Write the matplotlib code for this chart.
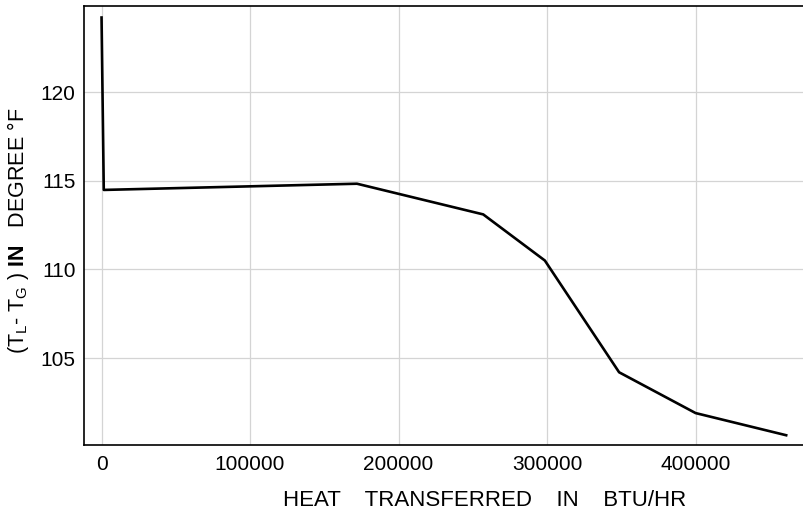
import matplotlib.pyplot as plt

plt.rcParams['font.family'] = ['Liberation Sans', 'DejaVu Sans']
plt.rcParams['mathtext.fontset'] = 'custom'
plt.rcParams['mathtext.rm'] = 'Liberation Sans'
plt.rcParams['mathtext.bf'] = 'Liberation Sans:bold'

# heat transferred (BTU/hr) vs liquid-gas temperature difference (deg F)
heat_btu_hr = [0, 1500, 172000, 257000, 298500, 348500, 400000, 461000]
delta_t_f = [124.2, 114.48, 114.83, 113.1, 110.5, 104.2, 101.9, 100.65]

x_ticks = [0, 100000, 200000, 300000, 400000]
y_ticks = [105, 110, 115, 120]

fig = plt.figure(figsize=(8.04, 5.16), dpi=100)
ax = fig.add_axes([0.1045, 0.1376, 0.8955, 0.8508])

ax.plot(heat_btu_hr, delta_t_f, color='black', linewidth=1.9, zorder=3)

ax.set_xlim(-11800, 473000)
ax.set_ylim(100.1, 124.85)
ax.set_xticks(x_ticks)
ax.set_xticklabels([str(v) for v in x_ticks])
ax.set_yticks(y_ticks)
ax.tick_params(length=0, labelsize=15, pad=6)
ax.tick_params(axis='x', pad=7)

ax.grid(True, color='#d4d4d4', linewidth=0.9)
ax.set_axisbelow(True)

for side in ['left', 'bottom', 'top']:
    ax.spines[side].set_linewidth(1.2)
ax.spines['right'].set_visible(False)

fig.text(0.603, 0.030, 'HEAT    TRANSFERRED    IN    BTU/HR',
         ha='center', va='center', fontsize=16)
fig.text(0.022, 0.553,
         r'(T$_{\mathregular{L}}$- T$_{\mathregular{G}}$ ) $\mathbf{IN}$   DEGREE °F',
         ha='center', va='center', rotation=90, fontsize=15.5)

fig.savefig('out.png', dpi=100)
